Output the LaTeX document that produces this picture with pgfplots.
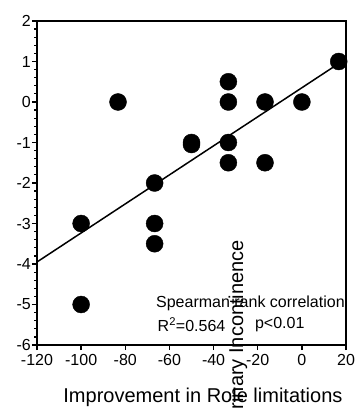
\documentclass[border=0pt]{standalone}
\usepackage{pgfplots}
\pgfplotsset{compat=1.18}
\usepackage{fontspec}
\setmainfont{Liberation Sans}
\begin{document}
\begin{tikzpicture}[x=1pt,y=1pt]
\begin{axis}[
  at={(0,0)}, anchor=south west,
  scale only axis, width=309pt, height=324pt,
  xmin=-120, xmax=20, ymin=-6, ymax=2,
  xtick={-120,-100,...,20}, ytick={-6,-5,...,2},
  minor y tick num=4,
  axis x line*=bottom, axis y line*=left,
  axis line style={line width=2pt, -},
  tick align=outside,
  major tick length=5pt, minor tick length=3pt,
  tick style={line width=1.5pt, black},
  minor tick style={line width=1.2pt},
  xticklabel style={font=\fontsize{16}{18}\selectfont, inner sep=1pt, yshift=-3pt},
  yticklabel style={font=\fontsize{16}{18}\selectfont, inner sep=1pt},
  /pgf/number format/assume math mode=true,
  clip=false,
]
\draw[line width=1.5pt] (rel axis cs:0,1) -- (rel axis cs:1,1) -- (rel axis cs:1,0);
\addplot[black, line width=1.5pt] coordinates {(-120,-3.95) (16.7,0.95)};
\addplot[only marks, mark=*, mark size=8.5pt, black] coordinates {
  (-100,-3) (-100,-5)
  (-83.3,0)
  (-66.7,-2) (-66.7,-3) (-66.7,-3.5)
  (-50,-1) (-50,-1.05)
  (-33.3,0.5) (-33.3,0) (-33.3,-1) (-33.3,-1.5)
  (-16.7,0) (-16.7,-1.5)
  (0,0)
  (16.7,1)
};
\node[anchor=west, inner sep=0, font=\fontsize{16}{19}\selectfont] at (rel axis cs:0.385,0.127) {Spearman rank correlation};
\node[anchor=west, inner sep=0, font=\fontsize{16}{19}\selectfont] at (rel axis cs:0.39,0.062) {R\textsuperscript{2}=0.564};
\node[anchor=west, inner sep=0, font=\fontsize{16}{19}\selectfont] at (rel axis cs:0.705,0.062) {p<0.01};
\node[font=\fontsize{20}{24}\selectfont] at (rel axis cs:0.537,0) [yshift=-52pt] {Improvement in Role limitations};
\node[rotate=90, anchor=east, inner sep=0, font=\fontsize{20}{24}\selectfont] at (rel axis cs:0.65,0.324) {Urinary Incontinence};
\end{axis}
\pgfresetboundingbox
\path[use as bounding box] (-37,-64) rectangle (317,345);
\end{tikzpicture}
\end{document}
